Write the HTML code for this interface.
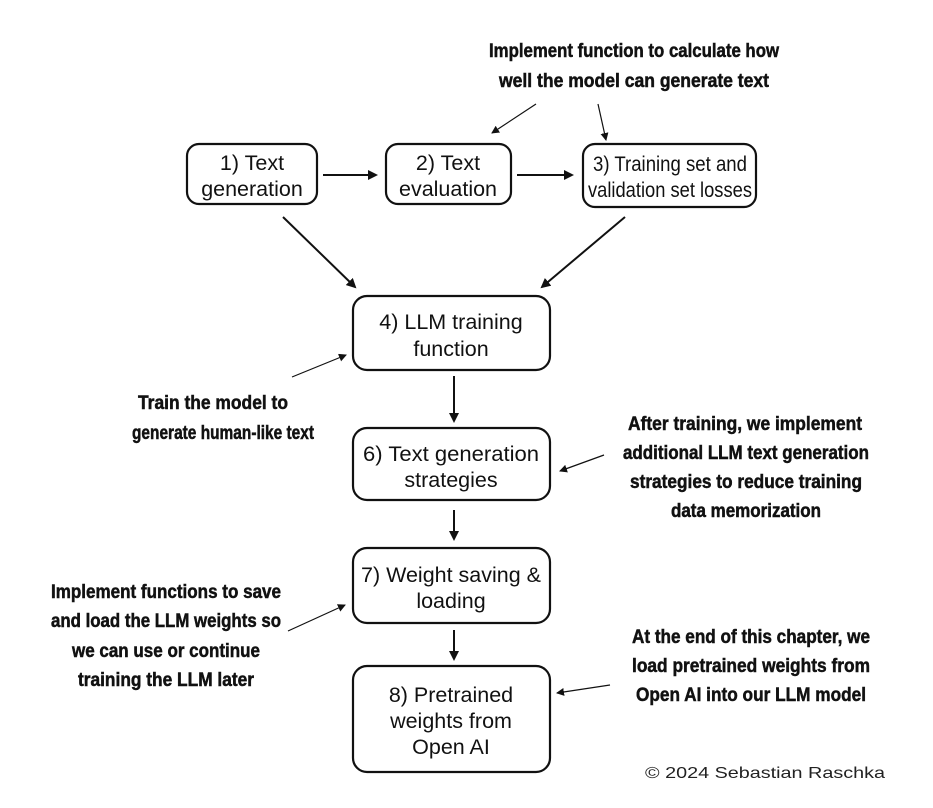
<!DOCTYPE html>
<html><head><meta charset="utf-8"><style>
html,body{margin:0;padding:0;background:#fff;}
svg{display:block;}
.b{font-family:"Liberation Sans",sans-serif;font-size:21.5px;fill:#111;text-anchor:middle;}
.a{font-family:"Liberation Sans",sans-serif;font-weight:bold;font-size:19px;fill:#111;text-anchor:middle;stroke:#111;stroke-width:0.5;}
.c{font-family:"Liberation Sans",sans-serif;font-size:16px;fill:#222;}
rect{fill:#fff;stroke:#111;stroke-width:2.2;}
.l{stroke:#111;stroke-width:2;fill:none;}
.t{stroke:#111;stroke-width:1.2;fill:none;}
</style></head><body>
<svg width="933" height="808" viewBox="0 0 933 808" xmlns="http://www.w3.org/2000/svg">
<defs>
<marker id="m" markerWidth="10" markerHeight="10" refX="8" refY="5" orient="auto" markerUnits="userSpaceOnUse"><path d="M0,0 L10,5 L0,10 z" fill="#111"/></marker>
<marker id="s" markerWidth="8" markerHeight="8" refX="7" refY="4" orient="auto" markerUnits="userSpaceOnUse"><path d="M0,0 L8,4 L0,8 z" fill="#111"/></marker>
</defs>
<rect x="187" y="144" width="130" height="60" rx="12"/>
<text class="b" x="252" y="170">1) Text</text><text class="b" x="252" y="196">generation</text>
<rect x="386" y="144" width="125" height="60" rx="12"/>
<text class="b" x="448" y="170">2) Text</text><text class="b" x="448" y="196">evaluation</text>
<rect x="583" y="144" width="173" height="63" rx="12"/>
<text class="b" x="670" y="171" textLength="154" lengthAdjust="spacingAndGlyphs">3) Training set and</text><text class="b" x="670" y="197" textLength="164" lengthAdjust="spacingAndGlyphs">validation set losses</text>
<rect x="353" y="296" width="197" height="74" rx="14"/>
<text class="b" x="451" y="329">4) LLM training</text><text class="b" x="451" y="356">function</text>
<rect x="353" y="428" width="197" height="72" rx="14"/>
<text class="b" x="451" y="461" textLength="176" lengthAdjust="spacingAndGlyphs">6) Text generation</text><text class="b" x="451" y="487">strategies</text>
<rect x="353" y="548" width="197" height="75" rx="14"/>
<text class="b" x="451" y="582" textLength="180" lengthAdjust="spacingAndGlyphs">7) Weight saving &amp;</text><text class="b" x="451" y="608">loading</text>
<rect x="353" y="666" width="197" height="106" rx="14"/>
<text class="b" x="451" y="702">8) Pretrained</text><text class="b" x="451" y="728">weights from</text><text class="b" x="451" y="754">Open AI</text>

<line class="l" x1="323" y1="175" x2="376" y2="175" marker-end="url(#m)"/>
<line class="l" x1="517" y1="175" x2="572" y2="175" marker-end="url(#m)"/>
<line class="l" x1="283" y1="217" x2="355" y2="287" marker-end="url(#m)"/>
<line class="l" x1="625" y1="217" x2="542" y2="287" marker-end="url(#m)"/>
<line class="l" x1="454" y1="376" x2="454" y2="421" marker-end="url(#m)"/>
<line class="l" x1="454" y1="510" x2="454" y2="539" marker-end="url(#m)"/>
<line class="l" x1="454" y1="630" x2="454" y2="659" marker-end="url(#m)"/>

<line class="t" x1="536" y1="104" x2="492" y2="133" marker-end="url(#s)"/>
<line class="t" x1="598" y1="104" x2="606" y2="140" marker-end="url(#s)"/>
<line class="t" x1="292" y1="377" x2="346" y2="355" marker-end="url(#s)"/>
<line class="t" x1="604" y1="455" x2="560" y2="471" marker-end="url(#s)"/>
<line class="t" x1="288" y1="631" x2="345" y2="605" marker-end="url(#s)"/>
<line class="t" x1="610" y1="685" x2="557" y2="693" marker-end="url(#s)"/>

<text class="a" x="634" y="57" textLength="290" lengthAdjust="spacingAndGlyphs">Implement function to calculate  how</text>
<text class="a" x="634" y="87" textLength="270" lengthAdjust="spacingAndGlyphs">well the model can generate text</text>
<text class="a" x="213" y="409" textLength="150" lengthAdjust="spacingAndGlyphs">Train the model to</text>
<text class="a" x="223" y="439" textLength="182" lengthAdjust="spacingAndGlyphs">generate human-like text</text>
<text class="a" x="745" y="430" textLength="234" lengthAdjust="spacingAndGlyphs">After training, we implement</text>
<text class="a" x="746" y="459" textLength="246" lengthAdjust="spacingAndGlyphs">additional LLM text generation</text>
<text class="a" x="746" y="488" textLength="232" lengthAdjust="spacingAndGlyphs">strategies to reduce training</text>
<text class="a" x="746" y="517" textLength="150" lengthAdjust="spacingAndGlyphs">data memorization</text>
<text class="a" x="166" y="598" textLength="230" lengthAdjust="spacingAndGlyphs">Implement functions to save</text>
<text class="a" x="166" y="627" textLength="230" lengthAdjust="spacingAndGlyphs">and load the LLM weights so</text>
<text class="a" x="166" y="657" textLength="188" lengthAdjust="spacingAndGlyphs">we can use or continue</text>
<text class="a" x="166" y="686" textLength="176" lengthAdjust="spacingAndGlyphs">training the LLM later</text>
<text class="a" x="751" y="643" textLength="238" lengthAdjust="spacingAndGlyphs">At the end of this chapter, we</text>
<text class="a" x="751" y="672" textLength="238" lengthAdjust="spacingAndGlyphs">load pretrained weights from</text>
<text class="a" x="751" y="701" textLength="230" lengthAdjust="spacingAndGlyphs">Open AI into our LLM model</text>
<text class="c" x="645" y="778" textLength="240" lengthAdjust="spacingAndGlyphs">© 2024 Sebastian Raschka</text>
</svg>
</body></html>
